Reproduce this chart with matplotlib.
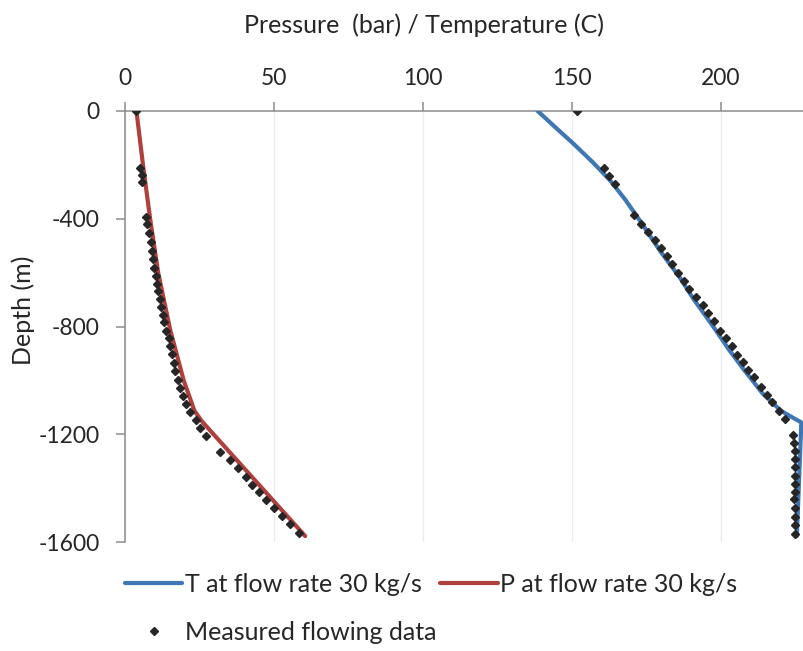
import matplotlib.pyplot as plt

plt.rcParams['font.family'] = ['Lato', 'DejaVu Sans']
plt.rcParams['axes.unicode_minus'] = False

# Model profiles (depth in m, pressure in bar, temperature in C)
p_model_depth = [0, -200, -400, -600, -815, -1001, -1113, -1152, -1578]
p_model = [3.7, 5.9, 8.3, 11.0, 15.1, 19.6, 23.2, 25.7, 60.4]

t_model_depth = [0, -60, -120, -190, -257, -330, -406, -517, -617, -700, -800,
                 -889, -960, -1050, -1113, -1140, -1156, -1578]
t_model = [138.5, 144.4, 150.4, 157.0, 162.8, 168.0, 172.8, 179.5, 186.2, 191.0,
           197.5, 203.0, 207.8, 214.2, 220.3, 224.5, 227.1, 225.6]

# Measured flowing survey
p_meas_depth = [0, -211, -238, -263, -393, -421, -454, -487, -518, -549, -581,
                -612, -641, -667, -699, -728, -756, -785, -815, -842, -871, -902,
                -935, -966, -998, -1028, -1057, -1087, -1116, -1147, -1176, -1205,
                -1265, -1297, -1327, -1357, -1387, -1415, -1445, -1474, -1504,
                -1534, -1566]
p_meas = [3.7, 5.0, 5.6, 5.6, 6.9, 7.3, 8.0, 8.5, 8.9, 9.3, 9.7, 10.2, 10.6, 11.1,
          11.5, 12.0, 12.5, 13.1, 13.8, 14.5, 15.1, 15.7, 16.2, 16.8, 17.6, 18.5,
          19.4, 20.5, 21.8, 23.7, 25.2, 27.2, 31.8, 35.0, 37.7, 40.4, 42.5, 44.8,
          47.3, 49.8, 52.6, 55.4, 58.4]

t_meas_depth = [0, -212, -242, -272, -387, -420, -449, -480, -509, -540, -569,
                -602, -631, -660, -691, -722, -749, -781, -815, -842, -871, -904,
                -933, -961, -989, -1023, -1053, -1082, -1113, -1143, -1203, -1234,
                -1261, -1292, -1323, -1354, -1385, -1416, -1441, -1475, -1506,
                -1537, -1569]
t_meas = [151.7, 160.7, 162.4, 164.4, 170.8, 173.4, 175.6, 178.1, 179.9, 182.0,
          183.7, 185.5, 187.6, 189.4, 191.6, 194.1, 195.7, 197.7, 199.7, 201.7,
          203.8, 205.6, 207.5, 209.2, 211.1, 213.4, 215.7, 217.3, 219.6, 221.7,
          224.3, 224.8, 225.0, 225.0, 225.0, 225.0, 225.0, 225.0, 224.8, 225.0,
          225.0, 225.0, 225.0]

x_ticks = [0, 50, 100, 150, 200]
y_ticks = [0, -400, -800, -1200, -1600]

blue = '#3f76b4'
red = '#b0403d'
ink = '#262626'
axis_grey = '#8c8c8c'
tick_fs = 16.5
label_fs = 18

fig = plt.figure(figsize=(8.04, 6.51), dpi=100)
ax = fig.add_axes([0.156, 0.1674, 0.844, 0.6621])

t_line, = ax.plot(t_model, t_model_depth, color=blue, lw=3, solid_capstyle='round',
                  solid_joinstyle='round', label='T at flow rate 30 kg/s', zorder=3)
p_line, = ax.plot(p_model, p_model_depth, color=red, lw=3, solid_capstyle='round',
                  solid_joinstyle='round', label='P at flow rate 30 kg/s', zorder=3)
meas, = ax.plot(p_meas, p_meas_depth, ls='none', marker='D', ms=4.2, color=ink,
                label='Measured flowing data', zorder=4)
ax.plot(t_meas, t_meas_depth, ls='none', marker='D', ms=4.2, color=ink, zorder=4)

ax.set_xlim(0, 228)
ax.set_ylim(-1600, 0)
ax.set_xticks(x_ticks)
ax.set_yticks(y_ticks)

ax.xaxis.tick_top()
ax.xaxis.set_label_position('top')
ax.grid(axis='x', color='#ececec', lw=0.9)
ax.set_axisbelow(True)

for side in ['right', 'bottom']:
    ax.spines[side].set_visible(False)
for side in ['left', 'top']:
    ax.spines[side].set_color(axis_grey)
    ax.spines[side].set_linewidth(1.1)

ax.tick_params(axis='x', direction='out', length=6.5, width=1.1, color=axis_grey,
               labelsize=tick_fs, labelcolor=ink, pad=9)
ax.tick_params(axis='y', direction='out', length=6.5, width=1.1, color=axis_grey,
               labelsize=tick_fs, labelcolor=ink, pad=12)

ax.set_xlabel('Pressure  (bar) / Temperature (C)', fontsize=label_fs, color=ink)
ax.xaxis.set_label_coords(0.4407, 1.1995)
ax.xaxis.label.set_va('center')
ax.set_ylabel('Depth (m)', fontsize=label_fs, color=ink)
ax.yaxis.set_label_coords(-0.151, 0.538)
ax.yaxis.label.set_va('center')

fig.legend(handles=[t_line, meas, p_line], ncol=2, loc='upper left',
           bbox_to_anchor=(125 / 804, 1 - 573 / 651), frameon=False, fontsize=label_fs,
           labelcolor=ink, borderpad=0, borderaxespad=0, handlelength=2.3,
           handletextpad=0.1, columnspacing=0.15, labelspacing=1.0, numpoints=1)

fig.savefig('out.png', dpi=100)
